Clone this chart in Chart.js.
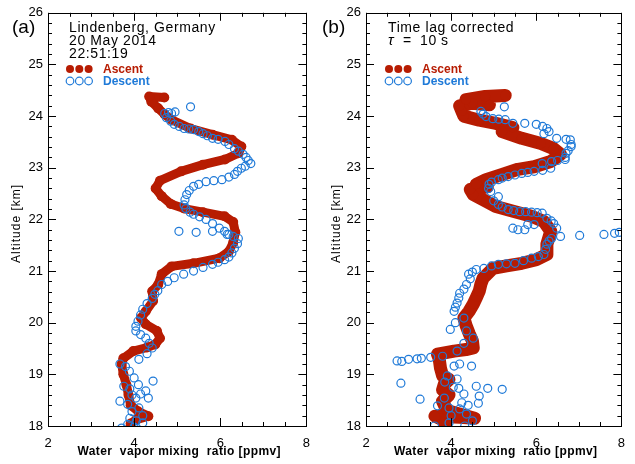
<!DOCTYPE html>
<html lang="en">
<head>
    <meta charset="UTF-8">
    <title>Water vapor profiles - Lindenberg</title>
    <script src="https://cdn.jsdelivr.net/npm/chart.js"></script>
    <style>
        body { margin: 0; background: #fff; }
        canvas { position: absolute; top: 0; }
    </style>
</head>
<body>
    <canvas id="chartA" width="320" height="464" style="left:0"></canvas>
    <canvas id="chartB" width="315" height="464" style="left:320px"></canvas>

    <script>
        // axis ticks
        const xTickLabels = [2, 4, 6, 8];
        const yTickLabels = [18, 19, 20, 21, 22, 23, 24, 25, 26];

        // panel (a): raw profile, [ppmv, km]
        const ascentA = [
            [3.90,17.95],[3.92,18.05],[4.05,18.12],[4.33,18.19],[4.10,18.28],[3.92,18.40],[3.87,18.60],
            [3.82,18.80],[3.75,19.00],[3.71,19.20],[3.75,19.31],[3.98,19.45],[4.30,19.52],[4.49,19.58],
            [4.60,19.70],[4.53,19.84],[4.27,19.97],[4.16,20.09],[4.27,20.22],[4.44,20.42],[4.42,20.61],
            [4.56,20.74],[4.64,20.94],[4.87,21.09],[5.38,21.15],[5.98,21.25],[6.20,21.38],[6.30,21.55],
            [6.35,21.75],[6.30,21.95],[6.10,22.06],[5.60,22.14],[5.16,22.21],[4.85,22.30],[4.64,22.45],
            [4.50,22.60],[4.60,22.75],[5.09,22.93],[5.60,23.06],[6.11,23.16],[6.42,23.28],[6.49,23.41],
            [6.27,23.54],[5.82,23.64],[5.31,23.76],[4.87,23.93],[4.71,24.03],[4.56,24.15],[4.40,24.28],
            [4.35,24.38],[4.70,24.36]
        ];
        const descentA = [
            [5.31,24.18],[4.71,24.05],[4.80,24.07],[4.87,24.05],[4.95,24.08],[4.75,23.97],[4.85,23.90],
            [4.93,23.84],[5.05,23.80],[5.16,23.76],[5.27,23.75],[5.38,23.74],[5.50,23.70],[5.60,23.66],
            [5.70,23.62],[5.82,23.57],[5.95,23.55],[6.11,23.51],[6.20,23.45],[6.33,23.37],[6.42,23.32],
            [6.53,23.26],[6.60,23.20],[6.65,23.14],[6.71,23.08],[6.58,23.03],[6.49,22.99],[6.40,22.93],
            [6.33,22.87],[6.20,22.82],[6.04,22.77],[5.85,22.75],[5.67,22.73],[5.50,22.68],[5.38,22.64],
            [5.28,22.56],[5.22,22.48],[5.18,22.38],[5.16,22.28],[5.20,22.21],[5.30,22.14],[5.38,22.10],
            [5.52,22.05],[5.67,22.00],[5.82,21.92],[5.98,21.83],[6.10,21.77],[6.20,21.71],[6.30,21.67],
            [6.42,21.63],[6.40,21.53],[6.33,21.44],[6.27,21.35],[6.20,21.27],[6.10,21.22],[5.95,21.17],
            [5.82,21.13],[5.60,21.07],[5.38,21.00],[5.15,20.94],[4.93,20.87],[4.78,20.80],[4.64,20.74],
            [4.55,20.62],[4.48,20.55],[4.42,20.47],[4.30,20.37],[4.20,20.26],[4.15,20.15],[4.09,20.03],
            [4.04,19.93],[4.04,19.84],[4.15,19.77],[4.27,19.70],[4.35,19.60],[4.42,19.51],[4.30,19.40],
            [4.11,19.29],[3.67,19.20],[3.80,19.15],[3.89,19.06],[4.00,18.93],[4.44,18.87],[3.76,18.77],
            [3.90,18.72],[4.10,18.80],[4.27,18.68],[4.15,18.62],[3.95,18.60],[4.04,18.54],[4.33,18.54],
            [3.67,18.48],[3.85,18.42],[4.11,18.35],[3.95,18.28],[4.20,18.20],[3.90,18.15],[4.05,18.10],
            [4.20,18.06],[3.85,18.03],[3.71,17.96],[4.00,17.98],
            [5.04,21.77],[5.44,21.75],[5.82,21.77],[6.16,21.71]
        ];

        // panel (b): time lag corrected, tau = 10 s
        const ascentB = [
            [3.85,17.95],[3.85,18.10],[3.62,18.19],[4.20,18.17],[4.55,18.15],[3.90,18.30],[3.80,18.48],
            [3.95,18.60],[3.80,18.70],[3.84,18.81],[3.95,18.90],[3.80,18.97],[3.75,19.12],[3.72,19.30],
            [3.68,19.39],[4.07,19.45],[4.35,19.48],[4.52,19.51],[4.50,19.65],[4.43,19.78],[4.35,19.95],
            [4.30,20.09],[4.42,20.22],[4.52,20.36],[4.60,20.50],[4.66,20.61],[4.70,20.75],[4.75,20.86],
            [4.98,21.05],[5.30,21.10],[5.66,21.15],[6.00,21.22],[6.25,21.32],[6.25,21.52],[6.34,21.77],
            [6.18,21.96],[5.89,22.06],[5.50,22.15],[5.05,22.25],[4.82,22.35],[4.52,22.48],[4.45,22.58],
            [4.85,22.63],[4.59,22.68],[4.82,22.77],[5.20,22.87],[5.57,22.97],[5.95,23.02],[6.34,23.12],
            [6.57,23.26],[6.41,23.37],[6.11,23.47],[5.66,23.57],[5.20,23.70],[5.45,23.78],[5.05,23.86],
            [4.66,23.92],[4.30,24.00],[4.25,24.10],[4.20,24.20],[4.50,24.25],[4.90,24.22],[4.35,24.32],
            [4.80,24.38],[5.27,24.40]
        ];
        const descentB = [
            [5.25,24.18],[4.70,24.09],[4.75,24.04],[4.82,23.99],[4.98,23.95],[5.12,23.94],[5.27,23.93],
            [5.45,23.86],[5.73,23.86],[6.00,23.84],[6.15,23.80],[6.25,23.76],[6.18,23.66],[6.30,23.70],
            [6.48,23.57],[6.70,23.55],[6.80,23.54],[6.82,23.45],[6.82,23.41],[6.75,23.33],[6.70,23.28],
            [6.68,23.20],[6.68,23.16],[6.50,23.14],[6.36,23.12],[6.14,23.08],[6.34,22.99],[6.15,22.95],
            [5.95,22.93],[5.80,22.91],[5.66,22.89],[5.50,22.86],[5.34,22.83],[5.20,22.80],[5.11,22.77],
            [4.95,22.72],[4.89,22.68],[4.88,22.60],[4.93,22.54],[5.11,22.44],[5.00,22.36],[5.11,22.29],
            [5.20,22.24],[5.34,22.19],[5.47,22.17],[5.61,22.15],[5.75,22.15],[5.89,22.14],[6.02,22.13],
            [6.14,22.12],[6.25,22.02],[6.35,21.97],[6.41,21.92],[6.48,21.83],[5.45,21.83],[5.57,21.80],
            [5.73,21.80],[5.80,21.90],[5.95,21.90],[6.57,21.67],[7.02,21.69],[7.59,21.71],[7.84,21.73],
            [7.95,21.75],[6.36,21.63],[6.30,21.58],[6.25,21.52],[6.22,21.42],[6.18,21.32],[6.05,21.28],
            [5.89,21.25],[5.70,21.20],[5.50,21.15],[5.30,21.14],[5.11,21.13],[4.95,21.10],[4.77,21.05],
            [4.59,21.03],[4.50,20.98],[4.41,20.94],[4.45,20.85],[4.36,20.74],[4.30,20.65],[4.20,20.57],
            [4.18,20.48],[4.14,20.38],[4.10,20.30],[4.07,20.22],[4.30,20.09],[4.10,20.00],[3.98,19.87],
            [4.36,19.84],[4.52,19.70],[4.30,19.60],[4.14,19.45],[2.73,19.26],[2.84,19.25],[3.00,19.29],
            [3.20,19.30],[3.30,19.31],[3.52,19.33],[3.80,19.35],[4.07,19.16],[4.48,19.16],[4.20,19.20],
            [2.82,18.83],[3.91,18.97],[4.14,18.91],[4.59,18.77],[4.86,18.73],[5.20,18.71],[4.18,18.73],
            [4.30,18.62],[4.66,18.58],[4.64,18.44],[3.27,18.52],[3.68,18.39],[3.84,18.54],[3.95,18.35],
            [4.20,18.33],[4.36,18.23],[3.61,18.00],[3.95,18.06],[4.32,18.00],[4.50,18.10],[4.00,18.20],
            [3.85,18.85],[4.05,18.75],[4.40,18.40],[4.25,18.45]
        ];

        const RED = '#b71c02';
        const BLUE = '#1f7ad8';
        const FONT = '"Liberation Sans", Arial, sans-serif';

        const toXY = arr => arr.map(p => ({ x: p[0], y: p[1] }));

        // frame, inward ticks and all the annotation text
        function decorPlugin(cfg) {
            return {
                id: 'decor',
                afterDraw(chart) {
                    const ctx = chart.ctx;
                    const ca = chart.chartArea;
                    const xs = chart.scales.x, ys = chart.scales.y;
                    ctx.save();
                    ctx.strokeStyle = '#000';
                    ctx.lineWidth = 1;
                    ctx.beginPath();
                    for (let v = 2; v <= 8.001; v += 0.5) {
                        const px = Math.round(xs.getPixelForValue(v)) + 0.5;
                        const len = Math.abs(v % 2) < 0.01 ? 8 : 4;
                        ctx.moveTo(px, ca.bottom); ctx.lineTo(px, ca.bottom - len);
                        ctx.moveTo(px, ca.top); ctx.lineTo(px, ca.top + len);
                    }
                    for (let v = 18; v <= 26.001; v += 0.2) {
                        const py = Math.round(ys.getPixelForValue(v)) + 0.5;
                        const len = Math.abs(v - Math.round(v)) < 0.01 ? 8 : 4;
                        ctx.moveTo(ca.left, py); ctx.lineTo(ca.left + len, py);
                        ctx.moveTo(ca.right, py); ctx.lineTo(ca.right - len, py);
                    }
                    ctx.stroke();
                    ctx.strokeRect(Math.round(ca.left) + 0.5, Math.round(ca.top) + 0.5,
                        Math.round(ca.right - ca.left), Math.round(ca.bottom - ca.top));

                    ctx.fillStyle = '#000';
                    ctx.textBaseline = 'alphabetic';
                    // panel label
                    ctx.font = '19px ' + FONT;
                    ctx.fillText(cfg.label, cfg.labelX, 33);

                    // header text
                    ctx.font = '14px ' + FONT;
                    ctx.letterSpacing = '0.6px';
                    cfg.lines.forEach((t, i) => ctx.fillText(t, cfg.textX, 32 + i * 13));
                    if (cfg.tau) {
                        ctx.font = 'italic 15px ' + FONT;
                        ctx.fillText('\u03c4', cfg.textX, 45);
                        ctx.font = '14px ' + FONT;
                        ctx.fillText('=', cfg.textX + 15, 45);
                        ctx.fillText('10', cfg.textX + 32, 45);
                        ctx.fillText('s', cfg.textX + 53, 45);
                    }
                    ctx.letterSpacing = '0px';

                    // legend
                    for (let i = 0; i < 3; i++) {
                        const cx = cfg.textX + 1 + i * 9.3;
                        ctx.beginPath();
                        ctx.arc(cx, 69, 4, 0, Math.PI * 2);
                        ctx.fillStyle = RED;
                        ctx.fill();
                        ctx.beginPath();
                        ctx.arc(cx, 81, 3.8, 0, Math.PI * 2);
                        ctx.strokeStyle = BLUE;
                        ctx.lineWidth = 1.2;
                        ctx.stroke();
                    }
                    ctx.font = 'bold 12px ' + FONT;
                    ctx.fillStyle = RED;
                    ctx.fillText('Ascent', cfg.textX + 34, 73);
                    ctx.fillStyle = BLUE;
                    ctx.fillText('Descent', cfg.textX + 34, 85);

                    // axis titles
                    ctx.fillStyle = '#000';
                    ctx.font = 'bold 12px ' + FONT;
                    ctx.textAlign = 'center';
                    ctx.letterSpacing = '0.4px';
                    ctx.fillText('Water  vapor mixing  ratio [ppmv]', (ca.left + ca.right) / 2 + 2, 455);
                    ctx.translate(cfg.yTitleX, (ca.top + ca.bottom) / 2 + 4);
                    ctx.rotate(-Math.PI / 2);
                    ctx.font = '12px ' + FONT;
                    ctx.letterSpacing = '1px';
                    ctx.fillText('Altitude [km]', 0, 0);
                    ctx.restore();
                }
            };
        }

        function makeChart(id, ascent, descent, plotLeft, padRight, cfg) {
            const ctx = document.getElementById(id).getContext('2d');
            return new Chart(ctx, {
                type: 'scatter',
                data: {
                    datasets: [
                        {
                            label: 'Descent',
                            data: toXY(descent),
                            order: 1,
                            pointRadius: 4,
                            pointBackgroundColor: 'rgba(0,0,0,0)',
                            pointBorderColor: BLUE,
                            pointBorderWidth: 1.2
                        },
                        {
                            label: 'Ascent',
                            data: toXY(ascent),
                            order: 2,
                            showLine: true,
                            borderColor: RED,
                            borderWidth: cfg.band,
                            borderCapStyle: 'round',
                            borderJoinStyle: 'round',
                            pointRadius: 5,
                            pointBackgroundColor: RED,
                            pointBorderWidth: 0
                        }
                    ]
                },
                options: {
                    responsive: false,
                    animation: false,
                    events: [],
                    layout: { padding: { top: 11, right: padRight, left: 0, bottom: 0 } },
                    plugins: { legend: { display: false }, tooltip: { enabled: false } },
                    scales: {
                        x: {
                            type: 'linear', min: 2, max: 8,
                            afterBuildTicks: s => { s.ticks = xTickLabels.map(v => ({ value: v })); },
                            afterFit: s => { s.height = 38; },
                            grid: { display: false, drawTicks: false },
                            border: { display: false },
                            ticks: { color: '#000', padding: 10, font: { family: FONT, size: 13 }, maxRotation: 0 }
                        },
                        y: {
                            type: 'linear', min: 18, max: 26,
                            afterBuildTicks: s => { s.ticks = yTickLabels.map(v => ({ value: v })); },
                            afterFit: s => { s.width = plotLeft; },
                            grid: { display: false, drawTicks: false },
                            border: { display: false },
                            ticks: { color: '#000', padding: 5, font: { family: FONT, size: 13 } }
                        }
                    }
                },
                plugins: [decorPlugin(cfg)]
            });
        }

        makeChart('chartA', ascentA, descentA, 48, 2, {
            label: '(a)', labelX: 12, textX: 69, yTitleX: 20, band: 9,
            lines: ['Lindenberg, Germany', '20 May 2014', '22:51:19']
        });
        makeChart('chartB', ascentB, descentB, 46, 4, {
            label: '(b)', labelX: 2, textX: 68, yTitleX: 20, band: 13, tau: true,
            lines: ['Time lag corrected']
        });
    </script>
</body>
</html>
